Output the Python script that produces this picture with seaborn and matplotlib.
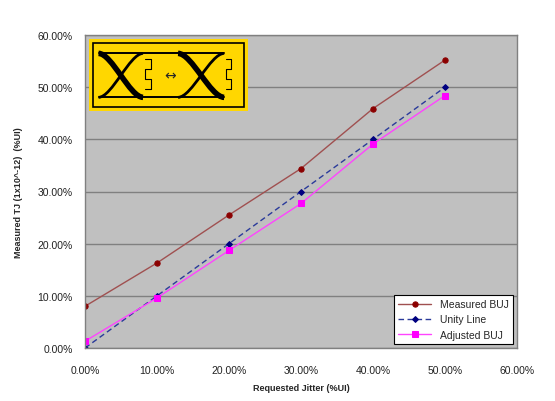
import matplotlib
matplotlib.use("Agg")
import matplotlib.pyplot as plt
import seaborn as sns
import pandas as pd
from matplotlib.patches import Rectangle, PathPatch
from matplotlib.path import Path
from matplotlib.ticker import PercentFormatter

requested = [0, 10, 20, 30, 40, 50]
measured_buj = [8.0, 16.3, 25.5, 34.4, 45.9, 55.2]
unity_line = [0, 10, 20, 30, 40, 50]
adjusted_buj = [1.3, 9.6, 18.7, 27.7, 39.1, 48.4]

df = pd.DataFrame({
    "x": requested * 3,
    "y": measured_buj + unity_line + adjusted_buj,
    "series": ["Measured BUJ"] * 6 + ["Unity Line"] * 6 + ["Adjusted BUJ"] * 6,
})

sns.set_style("white")
plt.rcParams["font.family"] = ["Liberation Sans", "DejaVu Sans"]

fig = plt.figure(figsize=(5.55, 4.02), dpi=100)
ax = fig.add_axes([85/555, 1-349/402, (517-85)/555, (349-36)/402])
ax.set_facecolor("#c0c0c0")

sns.lineplot(data=df, x="x", y="y", hue="series", style="series",
             palette={"Measured BUJ": "#a05050", "Unity Line": "#2a3a9a", "Adjusted BUJ": "#ff44ff"},
             dashes={"Measured BUJ": "", "Unity Line": (4, 2.5), "Adjusted BUJ": ""},
             markers={"Measured BUJ": "o", "Unity Line": "D", "Adjusted BUJ": "s"},
             markersize=3.8, linewidth=1.0, ax=ax, legend=False)
mcol = {"Measured BUJ": "#8b0000", "Unity Line": "#000080", "Adjusted BUJ": "#ff00ff"}
for line, name in zip(ax.get_lines(), ["Measured BUJ", "Unity Line", "Adjusted BUJ"]):
    line.set_markerfacecolor(mcol[name])
    line.set_markeredgecolor(mcol[name])
    if name == "Unity Line":
        line.set_markersize(3.0)
    line.set_label(name)

ax.set_xlim(0, 60)
ax.set_ylim(0, 60)
ax.set_xticks(range(0, 61, 10))
ax.set_yticks(range(0, 61, 10))
ax.xaxis.set_major_formatter(PercentFormatter(decimals=2))
ax.yaxis.set_major_formatter(PercentFormatter(decimals=2))
ax.grid(axis="y", color="#808080", linewidth=1.0)
ax.set_axisbelow(True)
for s in ax.spines.values():
    s.set_color("#808080")
    s.set_linewidth(1.0)
ax.tick_params(axis="both", labelsize=7.5, colors="#222222", length=3, width=0.8, color="#808080", direction="out")
ax.tick_params(axis="y", pad=6)
ax.tick_params(axis="x", pad=9)
ax.set_xlabel("Requested Jitter (%UI)", fontsize=6.5, fontweight="bold", labelpad=6)
ax.set_ylabel("Measured TJ (1x10^-12)  (%UI)", fontsize=6.5, fontweight="bold", labelpad=10)

leg = ax.legend(loc="lower right", fontsize=7.5, frameon=True, fancybox=False,
                edgecolor="black", framealpha=1, borderaxespad=0.4, handlelength=3.2,
                labelspacing=0.5, borderpad=0.4)
leg.get_frame().set_linewidth(0.8)

# logo
lax = fig.add_axes([89/555, 1-112/402, (248-89)/555, (112-40)/402])
lax.set_xlim(0, 1)
lax.set_ylim(0, 1)
lax.axis("off")
lax.add_patch(Rectangle((0, 0), 1, 1, facecolor="#ffd700", edgecolor="none"))
lax.add_patch(Rectangle((0.025, 0.05), 0.95, 0.9, facecolor="none", edgecolor="black", linewidth=1.2))
top, bot = 0.8, 0.19
lax.plot([0.06, 0.85], [top, top], color="black", lw=1.4)
lax.plot([0.06, 0.85], [bot, bot], color="black", lw=1.4)


def curve(x0, y0, x1, y1, lw):
    dx = x1 - x0
    p = Path([(x0, y0), (x0 + 0.3 * dx, y0), (x1 - 0.3 * dx, y1), (x1, y1)],
             [Path.MOVETO, Path.CURVE4, Path.CURVE4, Path.CURVE4])
    lax.add_patch(PathPatch(p, facecolor="none", edgecolor="black", lw=lw, capstyle="butt"))


for xa, xb in ((0.06, 0.34), (0.56, 0.85)):
    curve(xa, top, xb, bot, 4.0)
    curve(xa, bot, xb, top, 2.0)

lax.text(0.51, 0.5, "↔", fontsize=10, family="DejaVu Sans", ha="center", va="center")
for x0 in (0.355, 0.86):
    xs = [x0, x0 + 0.035, x0 + 0.035, x0, x0, x0 + 0.035, x0 + 0.035, x0]
    ys = [0.72, 0.72, 0.58, 0.58, 0.44, 0.44, 0.3, 0.3]
    lax.plot(xs, ys, color="black", lw=0.8)

fig.savefig("out.png", dpi=100)
